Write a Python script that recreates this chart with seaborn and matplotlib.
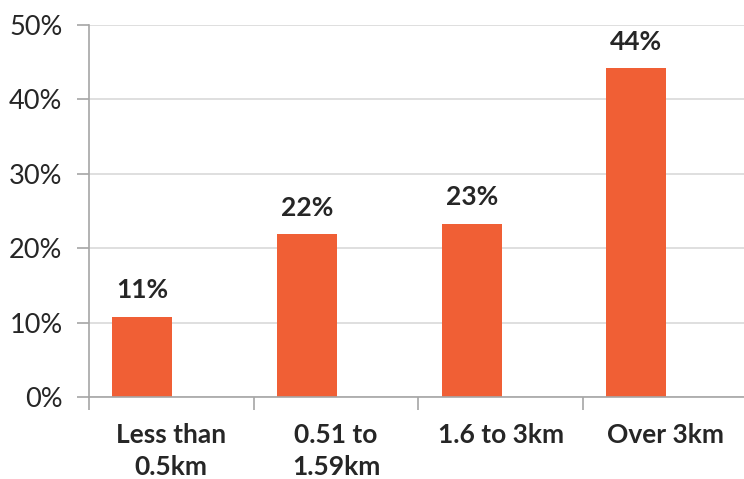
import matplotlib
matplotlib.use("Agg")
import matplotlib.pyplot as plt
import seaborn as sns
import pandas as pd
import numpy as np
from matplotlib.ticker import FixedLocator, FuncFormatter

categories = ["Less than\n0.5km", "0.51 to\n1.59km", "1.6 to 3km", "Over 3km"]
shares = [10.8, 21.9, 23.3, 44.2]
y_ticks = [0, 10, 20, 30, 40, 50]

sns.set_theme(style="white")
plt.rcParams["font.family"] = ["Lato", "DejaVu Sans"]

bar_color = "#F05F35"
text_color = "#262626"
axis_color = "#A6A6A6"
grid_color = "#D9D9D9"

# bars sit left of the category centre, as in a clustered layout
offset = 0.176
df = pd.DataFrame({
    "pos": np.arange(len(categories)) - offset,
    "share": shares,
})

fig = plt.figure(figsize=(7.44, 4.79), dpi=100)
ax = fig.add_axes([0.1196, 0.1712, 0.8854, 0.7766])

sns.barplot(data=df, x="pos", y="share", native_scale=True, width=0.364,
            color=bar_color, saturation=1, edgecolor="none", ax=ax, zorder=3)

ax.set_ylim(0, 50)
ax.set_xlim(-0.5, 3.5)
ax.set_yticks(y_ticks)
ax.yaxis.set_major_formatter(FuncFormatter(lambda v, _: f"{v:.0f}%"))
ax.grid(axis="y", color=grid_color, linewidth=1.2, zorder=0)
ax.grid(axis="x", visible=False)

ax.set_xticks(range(len(categories)))
ax.set_xticklabels(categories, fontsize=19, fontweight="bold",
                   color=text_color, linespacing=1.38)
ax.xaxis.set_minor_locator(FixedLocator(np.arange(-0.5, len(categories), 1.0)))
ax.tick_params(axis="x", which="major", length=0, pad=19)
ax.tick_params(axis="x", which="minor", length=9, width=1.2,
               color=axis_color, direction="out", bottom=True)
ax.tick_params(axis="y", which="major", length=9, width=1.2, color=axis_color,
               direction="out", left=True, labelsize=19.5, labelcolor=text_color,
               pad=10)

for side in ("top", "right"):
    ax.spines[side].set_visible(False)
for side in ("left", "bottom"):
    ax.spines[side].set_color(axis_color)
    ax.spines[side].set_linewidth(1.2)
    ax.spines[side].set_zorder(4)

ax.set_xlabel("")
ax.set_ylabel("")

for i, v in enumerate(shares):
    ax.annotate(f"{v:.0f}%", xy=(i - offset, v), xytext=(0, 19),
                textcoords="offset points", ha="center", va="center",
                fontsize=19, fontweight="bold", color=text_color)

fig.savefig("out.png", dpi=100)
